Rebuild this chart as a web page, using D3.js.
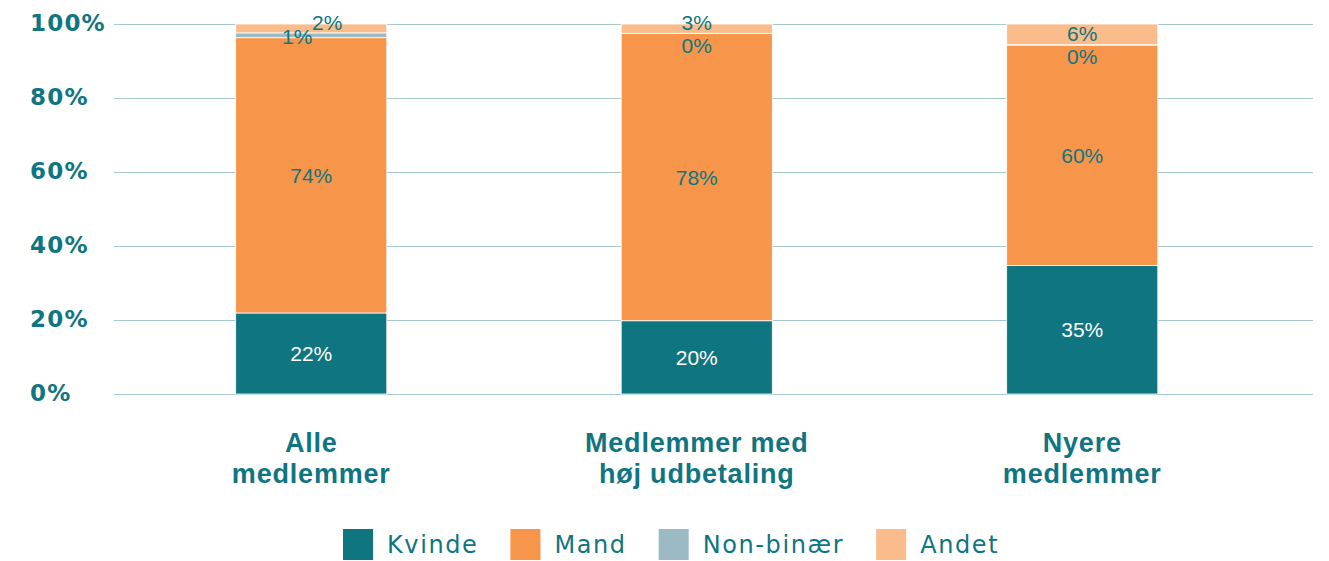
<!DOCTYPE html>
<html>
<head>
<meta charset="utf-8">
<script src="https://cdn.jsdelivr.net/npm/d3@7"></script>
<style>
  body { margin: 0; background: #fff; }
  svg { display: block; }
</style>
</head>
<body>
<div id="chart"></div>
<script>
// Data (percent of members).
var categories = ["Alle medlemmer", "Medlemmer med høj udbetaling", "Nyere medlemmer"];
var categoryLines = [["Alle", "medlemmer"], ["Medlemmer med", "høj udbetaling"], ["Nyere", "medlemmer"]];
var seriesNames = ["Kvinde", "Mand", "Non-binær", "Andet"];
var kvinde   = [21.9, 19.8, 34.7];
var mand     = [74.4, 77.6, 59.6];
var nonbinaer = [1.3, 0.1, 0.1];
var andet    = [2.4, 2.5, 5.6];
var yTicks = [0, 20, 40, 60, 80, 100];

var teal = "#0f7580";
var colors = ["#0f7580", "#f7964a", "#9bbac3", "#fbbc8b"];

// small labels near the top get nudged apart [dx, dy]
var labelNudge = {
  "0|2": [-14, 1], "0|3": [16, -6],
  "1|2": [0, 12],  "1|3": [0, -6],
  "2|2": [0, 12],  "2|3": [0, -1]
};

var width = 1329, height = 561;

var svg = d3.select("#chart").append("svg")
  .attr("width", width)
  .attr("height", height);

var y = d3.scaleLinear().domain([0, 100]).range([394, 24]);

var x = d3.scaleBand()
  .domain(categories)
  .range([118.5, 1275])
  .paddingInner(0.608)
  .paddingOuter(0.304);

// grid + y labels
var yAxis = svg.append("g")
  .attr("transform", "translate(114,0)")
  .call(d3.axisLeft(y).tickValues(yTicks).tickSize(-(1313 - 114)).tickFormat(d => d + "%"));

yAxis.select(".domain").remove();
yAxis.selectAll(".tick line")
  .attr("stroke", "#a6c8d1")
  .attr("stroke-width", 1);
yAxis.selectAll(".tick text")
  .attr("x", 30 - 114)
  .attr("dy", "0.3em")
  .attr("text-anchor", "start")
  .attr("fill", teal)
  .style("font-family", "'DejaVu Sans', sans-serif")
  .style("font-weight", "bold")
  .style("font-size", "23px")
  .style("letter-spacing", "1.2px");

// stack
var table = categories.map((c, i) => ({
  category: c,
  "Kvinde": kvinde[i],
  "Mand": mand[i],
  "Non-binær": nonbinaer[i],
  "Andet": andet[i]
}));

var stack = d3.stack().keys(seriesNames)(table);

var layer = svg.append("g").selectAll(".layer")
  .data(stack)
  .enter().append("g")
    .attr("class", "layer")
    .attr("fill", (d, i) => colors[i]);

layer.selectAll("rect")
  .data(d => d)
  .enter().append("rect")
    .attr("x", d => x(d.data.category))
    .attr("width", x.bandwidth())
    .attr("y", d => y(d[1]))
    .attr("height", d => y(d[0]) - y(d[1]))
    .attr("stroke", "#fff")
    .attr("stroke-width", 0.8);

// value labels
var labels = svg.append("g");
stack.forEach((s, si) => {
  s.forEach((d, ci) => {
    var nudge = labelNudge[ci + "|" + si] || [0, 0];
    labels.append("text")
      .attr("x", x(d.data.category) + x.bandwidth() / 2 + nudge[0])
      .attr("y", (y(d[0]) + y(d[1])) / 2 + nudge[1])
      .attr("dy", "0.36em")
      .attr("text-anchor", "middle")
      .attr("fill", si == 0 ? "#fff" : teal)
      .style("font-family", "'Liberation Sans', Arial, sans-serif")
      .style("font-size", "21px")
      .text(Math.round(d[1] - d[0]) + "%");
  });
});

// category labels
var catLabel = svg.append("g").selectAll("text")
  .data(categories)
  .enter().append("text")
    .attr("text-anchor", "middle")
    .attr("fill", teal)
    .style("font-family", "'Liberation Sans', Arial, sans-serif")
    .style("font-weight", "bold")
    .style("font-size", "27px")
    .style("letter-spacing", "0.8px");

catLabel.selectAll("tspan")
  .data((d, i) => categoryLines[i].map(t => ({ t: t, c: d })))
  .enter().append("tspan")
    .attr("x", d => x(d.c) + x.bandwidth() / 2)
    .attr("y", (d, i) => 452 + i * 31)
    .text(d => d.t);

// legend
var legend = svg.append("g").attr("transform", "translate(343,529)");
var lx = 0;
seriesNames.forEach((name, i) => {
  var g = legend.append("g").attr("transform", "translate(" + lx + ",0)");
  g.append("rect")
    .attr("width", 30)
    .attr("height", 31)
    .attr("fill", colors[i]);
  var t = g.append("text")
    .attr("x", 44)
    .attr("y", 24)
    .attr("fill", teal)
    .style("font-family", "'DejaVu Sans', sans-serif")
    .style("font-size", "24px")
    .style("letter-spacing", "1.6px")
    .text(name);
  lx += 44 + t.node().getComputedTextLength() + 32;
});
</script>
</body>
</html>
